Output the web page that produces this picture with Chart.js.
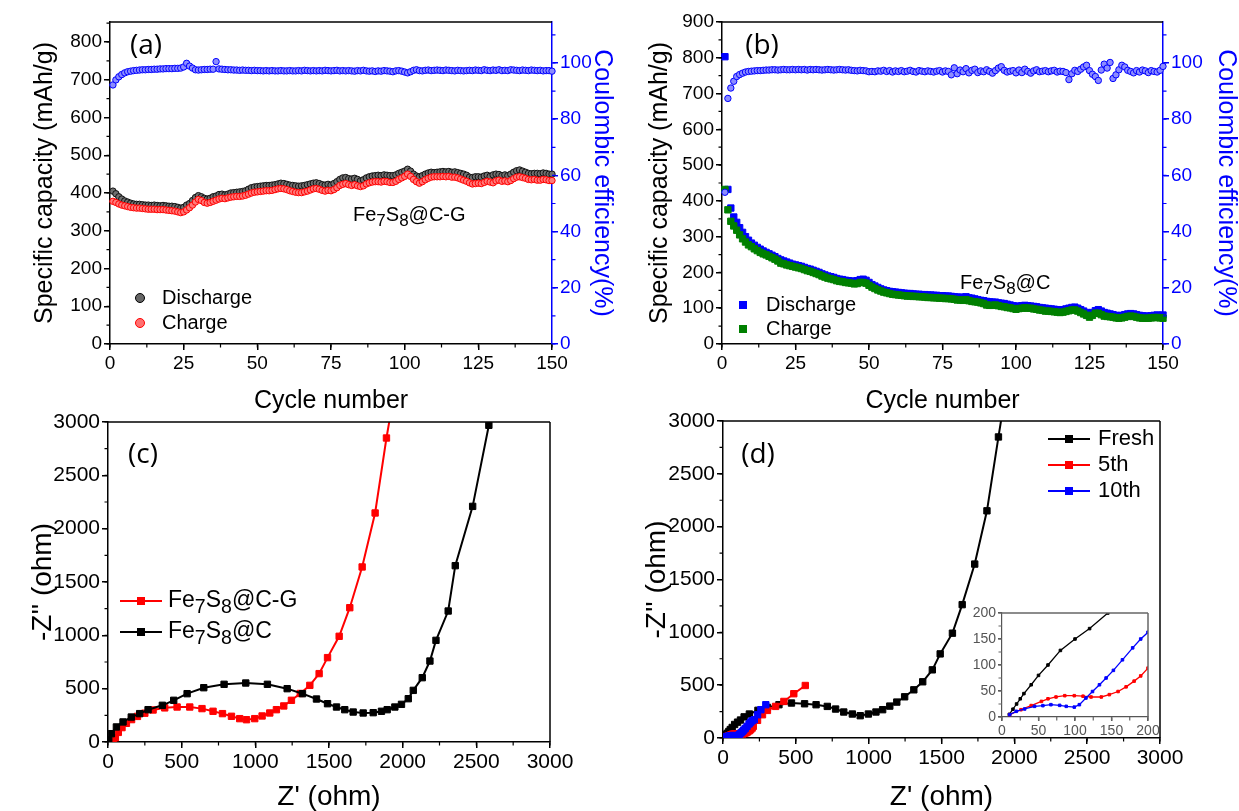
<!DOCTYPE html>
<html>
<head>
<meta charset="utf-8">
<script src="https://cdn.jsdelivr.net/npm/chart.js@4.4.0/dist/chart.umd.min.js"></script>
<style>
  body { margin: 0; background: #fff; width: 1239px; height: 811px; position: relative; overflow: hidden; }
  canvas { position: absolute; }
</style>
</head>
<body>
<canvas id="pa" width="620" height="420" style="left:0;top:0"></canvas>
<canvas id="pb" width="619" height="420" style="left:620px;top:0"></canvas>
<canvas id="pc" width="620" height="411" style="left:0;top:400px"></canvas>
<canvas id="pd" width="619" height="411" style="left:620px;top:400px"></canvas>
<canvas id="pi" width="210" height="140" style="left:950px;top:600px"></canvas>
<script>
// ---- data ----
const cycles = [1,2,3,4,5,6,7,8,9,10,11,12,13,14,15,16,17,18,19,20,21,22,23,24,25,26,27,28,29,30,
  31,32,33,34,35,36,37,38,39,40,41,42,43,44,45,46,47,48,49,50,51,52,53,54,55,56,57,58,59,60,
  61,62,63,64,65,66,67,68,69,70,71,72,73,74,75,76,77,78,79,80,81,82,83,84,85,86,87,88,89,90,
  91,92,93,94,95,96,97,98,99,100,101,102,103,104,105,106,107,108,109,110,111,112,113,114,115,116,117,118,119,120,
  121,122,123,124,125,126,127,128,129,130,131,132,133,134,135,136,137,138,139,140,141,142,143,144,145,146,147,148,149,150];

// (a) Fe7S8@C-G
const dischargeA = [405,398,390,384,379,376,373,371,370,370, 369,368,368,367,368,367,366,367,366,365,
  365,364,362,360,362,368,372,380,388,393, 390,386,384,386,390,392,396,397,395,397,
  400,401,402,403,404,406,410,414,416,417, 418,419,420,420,421,422,424,426,425,423,
  421,420,419,418,419,420,422,424,426,427, 425,422,421,423,421,425,430,436,440,441,
  438,437,439,436,432,435,440,443,445,446, 447,446,448,447,446,446,448,452,455,458,
  463,458,450,445,443,446,450,453,455,454, 455,456,457,456,457,455,456,454,452,450,
  447,442,441,443,443,442,445,447,444,448, 450,449,446,448,446,450,455,459,461,458,
  455,452,451,452,452,451,453,452,450,450];
const chargeA = [378,375,371,368,366,364,362,361,360,360, 359,358,357,357,357,356,356,356,355,354,
  353,352,350,348,350,355,361,368,376,383, 380,375,373,375,378,381,384,386,385,387,
  389,390,391,391,392,394,397,400,402,403, 404,405,406,406,407,409,411,412,411,409,
  406,404,402,401,401,403,405,408,411,412, 410,407,405,407,406,409,414,420,423,425,
  422,420,422,419,417,419,424,427,429,430, 430,429,431,430,428,428,431,436,440,444,
  450,444,436,430,426,430,435,439,442,443, 443,443,444,443,444,442,442,440,437,434,
  431,427,424,425,426,425,428,431,429,427, 432,434,431,432,430,433,438,442,443,441,
  439,436,435,436,434,434,436,435,433,433];
const ceA = [92.2,94.0,95.1,95.9,96.5,96.9,97.1,97.3,97.4,97.5, 97.6,97.6,97.7,97.7,97.8,97.8,97.9,97.9,98.0,98.0,
  98.0,98.1,98.1,98.2,98.6,99.9,98.9,98.2,97.6,97.5, 97.6,97.7,97.7,97.8,97.8,100.5,97.9,97.8,97.7,97.6,
  97.6,97.5,97.5,97.4,97.5,97.4,97.4,97.3,97.4,97.3, 97.3,97.2,97.3,97.2,97.3,97.2,97.2,97.3,97.2,97.2,
  97.3,97.2,97.2,97.3,97.2,97.4,97.3,97.2,97.3,97.2, 97.3,97.2,97.4,97.3,97.2,97.3,97.4,97.2,97.3,97.2,
  97.3,97.2,97.1,97.3,97.2,97.4,97.2,97.1,97.2,97.0, 97.2,97.1,97.3,97.2,97.1,96.9,97.2,97.3,97.1,96.8,
  96.5,96.9,97.4,97.6,97.3,97.2,97.4,97.5,97.3,97.4, 97.5,97.4,97.3,97.5,97.4,97.3,97.2,97.4,97.3,97.2,
  97.3,97.4,97.3,97.5,97.4,97.3,97.6,97.4,97.3,97.5, 97.4,97.6,97.3,97.4,97.3,97.6,97.5,97.4,97.3,97.5,
  97.4,97.3,97.5,97.4,97.3,97.4,97.2,97.3,97.3,97.1];

// (b) Fe7S8@C
const dischargeB = [803,432,380,355,340,325,312,300,290,282, 276,270,265,260,256,252,248,244,239,235,
  232,229,226,223,221,219,217,214,211,209, 206,203,200,196,193,190,188,186,183,181,
  180,178,177,176,175,177,180,181,178,172, 166,162,158,154,151,149,147,146,145,144,
  143,142,141,141,140,139,139,138,138,137, 137,136,136,135,135,134,134,133,132,131,
  131,130,132,129,128,126,124,122,121,119, 118,117,117,115,114,113,111,109,107,105,
  106,107,108,107,106,105,104,102,101,100, 99,98,97,96,95,96,98,100,102,103,
  100,96,92,88,85,88,93,96,92,88, 86,84,82,80,79,80,82,84,85,84,
  82,80,79,78,78,79,80,81,80,81];
const chargeB = [432,375,343,330,318,305,294,285,277,272, 266,261,256,252,249,245,241,237,232,226,
  224,221,219,217,215,213,211,208,205,203, 200,197,194,190,187,184,182,180,177,175,
  174,172,171,170,168,169,172,172,170,164, 159,155,151,148,145,143,141,139,138,137,
  136,135,134,134,133,133,132,132,131,130, 130,129,129,128,128,127,127,126,125,123,
  123,122,124,121,119,118,117,115,113,109, 108,108,109,107,105,104,102,101,99,97,
  99,100,101,100,100,98,97,95,94,92, 92,91,90,89,88,89,91,93,95,95,
  92,88,84,80,75,80,86,86,82,78, 77,76,75,73,72,73,75,77,78,77,
  75,73,72,72,72,73,74,74,73,72];
const ceB = [54.0,87.4,91.1,93.5,95.2,95.9,96.4,96.8,97.0,97.1, 97.2,97.3,97.3,97.4,97.5,97.5,97.6,97.6,97.5,97.6,
  97.7,97.6,97.6,97.7,97.6,97.7,97.6,97.7,97.5,97.7, 97.6,97.7,97.6,97.5,97.6,97.7,97.6,97.5,97.6,97.7,
  97.6,97.5,97.6,97.4,97.3,97.2,97.4,97.3,97.2,96.9, 97.0,96.9,97.2,97.1,97.4,97.0,97.3,96.8,97.2,97.0,
  97.3,96.9,97.1,97.4,97.0,96.8,97.3,97.1,96.9,97.2, 97.0,96.8,97.1,97.3,96.8,97.2,97.0,95.8,98.3,96.2,
  97.5,96.9,98.0,96.5,97.4,97.8,96.6,97.2,96.9,97.6, 97.0,96.4,97.3,98.2,98.7,97.4,96.8,97.1,97.3,96.5,
  97.5,96.6,97.8,97.0,96.4,97.2,97.6,96.9,97.1,97.3, 96.9,97.2,97.4,96.8,97.1,97.0,96.6,94.1,96.2,97.4,
  97.0,97.8,98.6,99.2,97.3,96.0,95.2,93.8,97.5,99.6, 98.2,100.2,94.5,95.8,97.6,99.2,98.6,97.4,97.0,96.5,
  97.3,96.8,97.5,97.2,96.6,97.3,97.0,96.8,97.4,98.8];

// (c) impedance
const cgZre = [35,50,70,95,125,160,200,250,306,385,469,555,638,713,777,838,894,940,996,1046,1098,1143,1193,1245,1305,1370,1433,1490,1569,1641,1725,1813,1890,1915];
const cgZim = [0,40,90,135,175,210,240,270,300,320,328,328,313,288,266,241,219,209,219,244,272,303,338,391,455,531,641,791,991,1259,1641,2147,2850,3050];
const cZre = [5,23,57,102,158,215,272,369,446,537,650,788,935,1082,1216,1320,1415,1490,1551,1607,1664,1732,1800,1856,1895,1947,1992,2038,2072,2133,2185,2226,2309,2357,2475,2585,2610];
const cZim = [20,78,141,188,234,266,303,344,391,453,509,541,553,541,500,453,403,359,328,303,281,272,275,288,303,328,353,406,484,603,759,953,1228,1653,2209,2969,3150];

// (d) impedance after cycling
const freshZre = [10,15,20,25,30,40,50,63,80,100,120,145,181,240,305,384,470,560,639,716,773,829,888,942,998,1050,1096,1145,1193,1247,1310,1371,1437,1491,1575,1642,1728,1812,1891,1920];
const freshZim = [5,15,25,35,45,62,80,100,128,150,170,200,227,262,290,315,331,324,315,299,274,246,227,211,227,246,268,302,340,390,456,532,645,796,992,1262,1646,2150,2849,3100];
const fifthZre = [10.5,26,40,54,63,74,86,99,111,122,136,147,159,170,181,190,200,208,237,271,305,361,418,486,565];
const fifthZim = [4.5,14,22,30,35,38.5,41,41,40,38.5,38.5,43,49,58,69,79,94,110,167,220,261,299,346,419,497];
const tenthZre = [10.5,19.6,31,44.6,56,67,79,88,99,106,115,124,133.5,142.6,152.6,165,179,190,200,215,237,260,294];
const tenthZim = [4.5,10.9,15.4,20.5,21.8,23.7,22.4,20.5,19,23.7,36.5,49,62,75,89.7,110,133,150,163,173,220,268,315];

// tick labels
const cycleTicks = [0,25,50,75,100,125,150];
const capTicksA = [0,100,200,300,400,500,600,700,800];
const capTicksB = [0,100,200,300,400,500,600,700,800,900];
const ceTicks = [0,20,40,60,80,100];
const ohmTicks = [0,500,1000,1500,2000,2500,3000];
const insetTicks = [0,50,100,150,200];

// ---- helpers ----
Chart.defaults.font.family = "'Liberation Sans', Arial, sans-serif";
Chart.defaults.color = '#000';

const pairs = (xs, ys) => xs.map((x, i) => ({ x, y: ys[i] }));
const BLUE = '#0000ff';

function axis(pos, min, max, ticks, size, color, fontSize, title, titleSize, titlePad) {
  return {
    type: 'linear', position: pos, min, max,
    afterBuildTicks: s => { s.ticks = ticks.map(v => ({ value: v })); },
    afterFit: s => {
      if (pos === 'bottom') s.height = size; else s.width = size;
      s.paddingTop = 0; s.paddingBottom = 0; s.paddingLeft = 0; s.paddingRight = 0;
    },
    border: { display: true, color, width: 1.5 },
    grid: { drawOnChartArea: false, drawTicks: true, tickLength: 6, color, lineWidth: 1.5 },
    ticks: { color, font: { size: fontSize }, padding: 2, autoSkip: false, maxRotation: 0, callback: v => String(v) },
    title: { display: !!title, text: title, color, font: { size: titleSize, lineHeight: 1 }, padding: { top: titlePad, bottom: titlePad } }
  };
}

function chem(ctx, x, y, parts, size, color) {
  ctx.fillStyle = color || '#000';
  ctx.textAlign = 'left';
  ctx.textBaseline = 'middle';
  for (const [t, sub] of parts) {
    const fs = sub ? size * 0.85 : size;
    ctx.font = fs + "px 'Liberation Sans', Arial, sans-serif";
    ctx.fillText(t, x, y + (sub ? size * 0.3 : 0));
    x += ctx.measureText(t).width;
  }
}
const CG = [['Fe', 0], ['7', 1], ['S', 0], ['8', 1], ['@C-G', 0]];
const CC = [['Fe', 0], ['7', 1], ['S', 0], ['8', 1], ['@C', 0]];

function label(ctx, t, x, y, size, color) {
  ctx.fillStyle = color || '#000';
  ctx.font = size + "px 'Liberation Sans', Arial, sans-serif";
  ctx.textAlign = 'left';
  ctx.textBaseline = 'middle';
  ctx.fillText(t, x, y);
}
function panelTag(ctx, t, x, y) {
  ctx.fillStyle = '#000';
  ctx.font = "28px 'Open Sans', sans-serif";
  ctx.textAlign = 'center';
  ctx.textBaseline = 'middle';
  ctx.fillText(t, x, y);
}
function dot(ctx, x, y, r, fill, stroke) {
  ctx.beginPath(); ctx.arc(x, y, r, 0, Math.PI * 2);
  ctx.fillStyle = fill; ctx.fill();
  ctx.lineWidth = 1; ctx.strokeStyle = stroke; ctx.stroke();
}
function sq(ctx, x, y, s, color) {
  ctx.fillStyle = color; ctx.fillRect(x - s / 2, y - s / 2, s, s);
}
function lineKey(ctx, x1, x2, y, color) {
  ctx.strokeStyle = color; ctx.lineWidth = 2;
  ctx.beginPath(); ctx.moveTo(x1, y); ctx.lineTo(x2, y); ctx.stroke();
  sq(ctx, (x1 + x2) / 2, y, 8, color);
}

// per-canvas decoration: frame, minor ticks, legends, labels
const decor = {
  pa: {
    top: '#000', right: null,
    minor: [{ id: 'x', step: 12.5, color: '#000' }, { id: 'y', step: 50, color: '#000' }, { id: 'y2', step: 10, color: BLUE }],
    extra: ctx => {
      panelTag(ctx, '(a)', 146, 46);
      dot(ctx, 140, 298, 4.5, '#666', '#000'); label(ctx, 'Discharge', 162, 298, 20);
      dot(ctx, 140, 323, 4.5, '#ff7070', '#ff0000'); label(ctx, 'Charge', 162, 323, 20);
      chem(ctx, 353, 215, CG, 20);
    }
  },
  pb: {
    top: '#000', right: null,
    minor: [{ id: 'x', step: 12.5, color: '#000' }, { id: 'y', step: 50, color: '#000' }, { id: 'y2', step: 10, color: BLUE }],
    extra: ctx => {
      panelTag(ctx, '(b)', 142, 46);
      sq(ctx, 123, 305, 8, BLUE); label(ctx, 'Discharge', 146, 305, 20);
      sq(ctx, 123, 329, 8, '#008000'); label(ctx, 'Charge', 146, 329, 20);
      chem(ctx, 340, 283, CC, 20);
    }
  },
  pc: {
    top: '#000', right: '#000',
    minor: [{ id: 'x', step: 250, color: '#000' }, { id: 'y', step: 250, color: '#000' }],
    extra: ctx => {
      panelTag(ctx, '(c)', 143, 55);
      lineKey(ctx, 120, 162, 201, '#ff0000'); chem(ctx, 168, 201, CG, 23);
      lineKey(ctx, 120, 162, 232, '#000'); chem(ctx, 168, 232, CC, 23);
    }
  },
  pd: {
    top: '#000', right: '#000',
    minor: [{ id: 'x', step: 250, color: '#000' }, { id: 'y', step: 250, color: '#000' }],
    extra: ctx => {
      panelTag(ctx, '(d)', 138, 55);
      lineKey(ctx, 428, 470, 39, '#000'); label(ctx, 'Fresh', 478, 39, 22);
      lineKey(ctx, 428, 470, 65, '#ff0000'); label(ctx, '5th', 478, 65, 22);
      lineKey(ctx, 428, 470, 91, BLUE); label(ctx, '10th', 478, 91, 22);
    }
  },
  pi: {
    top: '#666', right: '#666',
    minor: [{ id: 'x', step: 25, color: '#666' }, { id: 'y', step: 25, color: '#666' }],
    extra: null
  }
};

const deco = {
  id: 'deco',
  afterDraw(chart) {
    const d = decor[chart.canvas.id];
    if (!d) return;
    const { ctx, chartArea: a } = chart;
    ctx.save();
    ctx.lineWidth = 1.5;
    if (d.top) { ctx.strokeStyle = d.top; ctx.beginPath(); ctx.moveTo(a.left, a.top); ctx.lineTo(a.right, a.top); ctx.stroke(); }
    if (d.right) { ctx.strokeStyle = d.right; ctx.beginPath(); ctx.moveTo(a.right, a.top); ctx.lineTo(a.right, a.bottom); ctx.stroke(); }
    for (const m of d.minor) {
      const s = chart.scales[m.id];
      ctx.strokeStyle = m.color; ctx.lineWidth = 1.2;
      ctx.beginPath();
      for (let v = s.min; v <= s.max + 1e-9; v += m.step) {
        const p = s.getPixelForValue(v);
        if (s.position === 'bottom') { ctx.moveTo(p, a.bottom); ctx.lineTo(p, a.bottom + 3.5); }
        else if (s.position === 'left') { ctx.moveTo(a.left - 3.5, p); ctx.lineTo(a.left, p); }
        else { ctx.moveTo(a.right, p); ctx.lineTo(a.right + 3.5, p); }
      }
      ctx.stroke();
    }
    if (d.extra) d.extra(ctx);
    ctx.restore();
  }
};

const base = {
  responsive: false, animation: false, events: [],
  plugins: { legend: { display: false }, tooltip: { enabled: false } }
};

function scatterSet(data, yAxisID, fill, stroke, style, r, order) {
  return { data, yAxisID, showLine: false, pointStyle: style, pointRadius: r, pointBackgroundColor: fill,
    pointBorderColor: stroke, pointBorderWidth: 1, order, clip: 6 };
}
function curveSet(data, color, r, lw, order) {
  return { data, borderColor: color, borderWidth: lw, pointStyle: 'rect', pointRadius: r,
    pointBackgroundColor: color, pointBorderColor: color, pointBorderWidth: 1, tension: 0, order };
}

// ---- (a) ----
new Chart(document.getElementById('pa'), {
  type: 'line',
  data: { datasets: [
    scatterSet(pairs(cycles, chargeA), 'y', '#ff7a7a', '#ff0000', 'circle', 3.2, 1),
    scatterSet(pairs(cycles, dischargeA), 'y', '#707070', '#111', 'circle', 3.2, 2),
    scatterSet(pairs(cycles, ceA), 'y2', '#8c8cff', BLUE, 'circle', 3.2, 0)
  ] },
  options: { ...base, layout: { padding: { top: 22, left: 0, right: 0, bottom: 0 } },
    scales: {
      x: axis('bottom', 0, 150, cycleTicks, 76, '#000', 19, 'Cycle number', 25, 6.5),
      y: axis('left', 0, 853, capTicksA, 110, '#000', 19, 'Specific capacity (mAh/g)', 25, 32.5),
      y2: axis('right', 0, 114.6, ceTicks, 68, BLUE, 19, 'Coulombic efficiency(%)', 25, 5.5)
    } },
  plugins: [deco]
});

// ---- (b) ----
new Chart(document.getElementById('pb'), {
  type: 'line',
  data: { datasets: [
    scatterSet(pairs(cycles, chargeB), 'y', '#008000', '#008000', 'rect', 4.5, 1),
    scatterSet(pairs(cycles, dischargeB), 'y', BLUE, BLUE, 'rect', 4.5, 2),
    scatterSet(pairs(cycles, ceB), 'y2', '#8c8cff', BLUE, 'circle', 3.2, 0)
  ] },
  options: { ...base, layout: { padding: { top: 22, left: 0, right: 0, bottom: 0 } },
    scales: {
      x: axis('bottom', 0, 150, cycleTicks, 76, '#000', 19, 'Cycle number', 25, 6.5),
      y: axis('left', 0, 900, capTicksB, 102, '#000', 19, 'Specific capacity (mAh/g)', 25, 27.5),
      y2: axis('right', 0, 114.6, ceTicks, 76, BLUE, 19, 'Coulombic efficiency(%)', 25, 0.5)
    } },
  plugins: [deco]
});

// ---- (c) ----
new Chart(document.getElementById('pc'), {
  type: 'line',
  data: { datasets: [
    curveSet(pairs(cgZre, cgZim), '#ff0000', 4.5, 2, 1),
    curveSet(pairs(cZre, cZim), '#000', 4.5, 2, 0)
  ] },
  options: { ...base, layout: { padding: { top: 22, left: 0, right: 70, bottom: 0 } },
    scales: {
      x: axis('bottom', 0, 3000, ohmTicks, 69, '#000', 21, "Z' (ohm)", 28, 0),
      y: axis('left', 0, 3000, ohmTicks, 108, '#000', 21, "-Z'' (ohm)", 28, 29)
    } },
  plugins: [deco]
});

// ---- (d) ----
new Chart(document.getElementById('pd'), {
  type: 'line',
  data: { datasets: [
    curveSet(pairs(freshZre, freshZim), '#000', 4.5, 2, 2),
    curveSet(pairs(fifthZre, fifthZim), '#ff0000', 4.5, 2, 1),
    curveSet(pairs(tenthZre, tenthZim), BLUE, 4.5, 2, 0)
  ] },
  options: { ...base, layout: { padding: { top: 21, left: 0, right: 79, bottom: 0 } },
    scales: {
      x: axis('bottom', 0, 3000, ohmTicks, 73, '#000', 21, "Z' (ohm)", 28, 0),
      y: axis('left', 0, 3000, ohmTicks, 103, '#000', 21, "-Z'' (ohm)", 28, 23)
    } },
  plugins: [deco]
});

// ---- inset of (d) ----
const insetX = axis('bottom', 0, 200, insetTicks, 23, '#555', 14, '', 12, 0);
const insetY = axis('left', 0, 200, insetTicks, 52, '#555', 14, '', 12, 0);
insetX.grid.tickLength = 4; insetY.grid.tickLength = 4;
insetX.border.width = 1.2; insetY.border.width = 1.2;
new Chart(document.getElementById('pi'), {
  type: 'line',
  data: { datasets: [
    curveSet(pairs(freshZre, freshZim), '#000', 1.8, 1.3, 2),
    curveSet(pairs(fifthZre, fifthZim), '#ff0000', 1.8, 1.3, 1),
    curveSet(pairs(tenthZre, tenthZim), BLUE, 1.8, 1.3, 0)
  ] },
  options: { ...base, layout: { padding: { top: 13, left: 0, right: 12, bottom: 0 } },
    scales: { x: insetX, y: insetY } },
  plugins: [deco]
});
</script>
</body>
</html>
